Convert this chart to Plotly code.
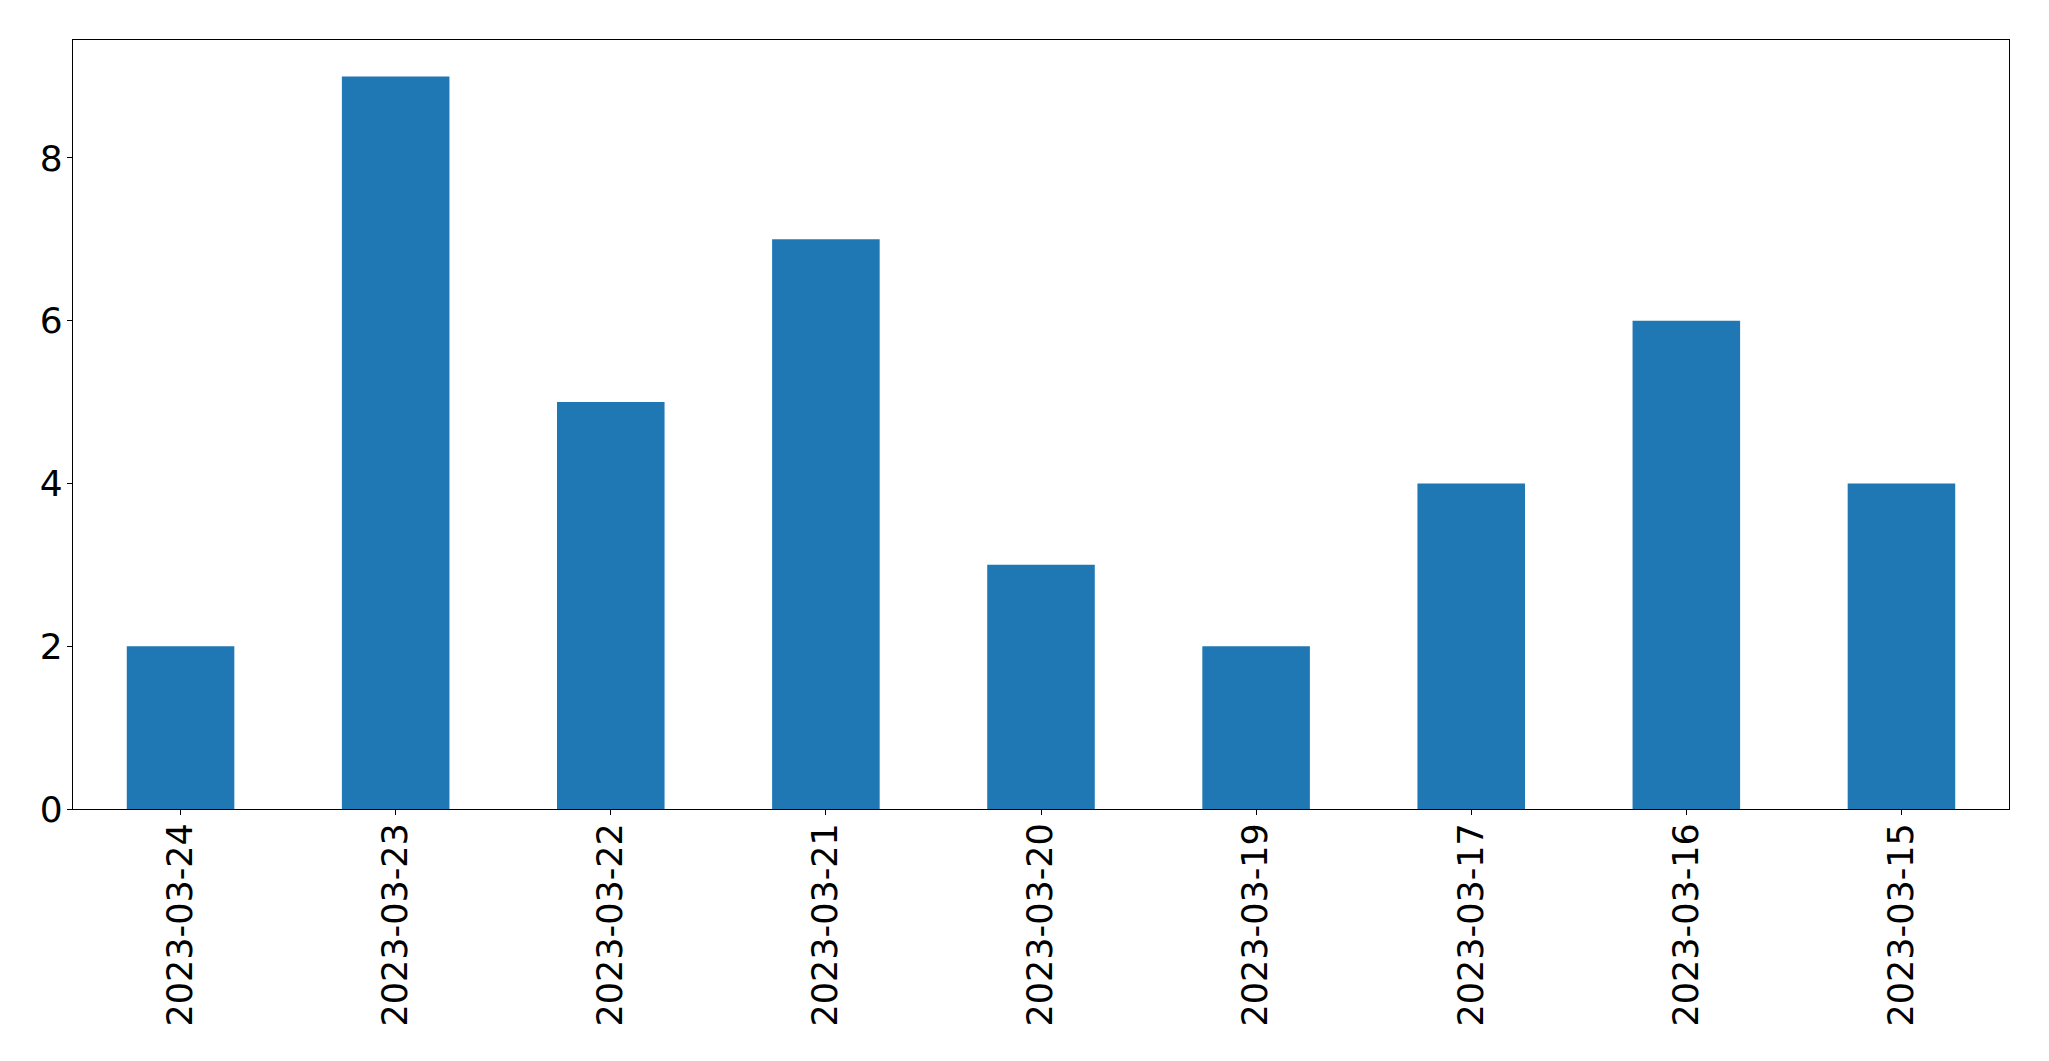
import plotly.graph_objects as go

dates = ["2023-03-24", "2023-03-23", "2023-03-22", "2023-03-21", "2023-03-20",
         "2023-03-19", "2023-03-17", "2023-03-16", "2023-03-15"]
counts = [2, 9, 5, 7, 3, 2, 4, 6, 4]
y_ticks = [0, 2, 4, 6, 8]

fig = go.Figure(go.Bar(x=dates, y=counts, width=0.5, marker_color="#1f77b4",
                       marker_line_width=0))

# page body has an 8px margin, compensated here
fig.update_layout(
    width=2049, height=1061,
    margin=dict(l=65, r=48, t=32, b=260, pad=0),
    paper_bgcolor="white", plot_bgcolor="white",
    font=dict(family="DejaVu Sans", size=35, color="black"),
    showlegend=False,
)
fig.update_xaxes(type="category", range=[-0.5, len(dates) - 0.5],
                 tickangle=-90, showline=True, linecolor="black", linewidth=1.3,
                 mirror=True, ticks="outside", ticklen=5, tickcolor="black",
                 ticklabelstandoff=-6,
                 showgrid=False, zeroline=False)
fig.update_yaxes(range=[0, 9.45], tickvals=y_ticks, showline=True,
                 linecolor="black", linewidth=1.3, mirror=True, ticks="outside",
                 ticklen=5, tickcolor="black", ticklabelstandoff=-3,
                 tickfont=dict(size=36),
                 showgrid=False, zeroline=False)

fig.write_html("out.html")
